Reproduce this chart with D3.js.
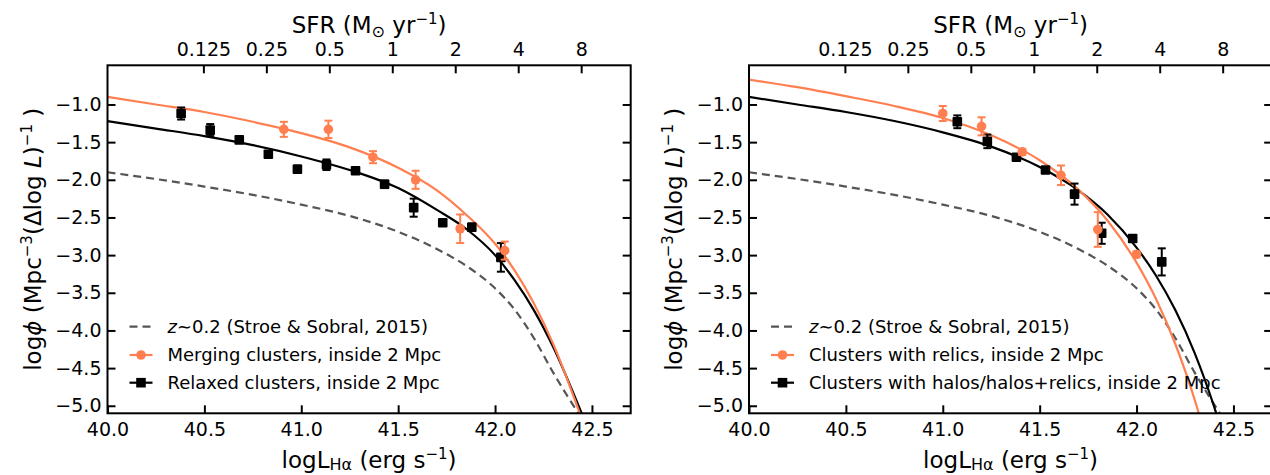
<!DOCTYPE html>
<html>
<head>
<meta charset="utf-8">
<script src="https://cdn.jsdelivr.net/npm/d3@7"></script>
<style>
  body { margin: 0; background: #fff; }
  svg { display: block; font-family: "DejaVu Sans", sans-serif; }
</style>
</head>
<body>
<svg id="chart" width="1270" height="475"></svg>
<script>
// --- Axes ---
const xDomain = [40.0, 42.7];
const yDomain = [-5.1, -0.48];
const xTicks = [40.0, 40.5, 41.0, 41.5, 42.0, 42.5];
const yTicks = [-1.0, -1.5, -2.0, -2.5, -3.0, -3.5, -4.0, -4.5, -5.0];
const sfrTicks = [0.125, 0.25, 0.5, 1, 2, 4, 8];
const sfrLabels = ["0.125", "0.25", "0.5", "1", "2", "4", "8"];
const sfrEdges = [0.0435, 13.8];   // SFR at the left and right edge of a panel

// --- z~0.2 field LF (dashed, both panels) ---
const fieldL   = [40.0, 40.25, 40.5, 40.75, 41.0, 41.25, 41.5, 41.7, 41.85, 42.0, 42.1, 42.2, 42.3, 42.44];
const fieldPhi = [-1.90, -1.99, -2.09, -2.20, -2.33, -2.48, -2.69, -2.92, -3.14, -3.44, -3.72, -4.10, -4.56, -5.14];

// --- Left panel: merging vs relaxed ---
const mergingFitL   = [40.0, 40.25, 40.5, 40.75, 41.0, 41.25, 41.5, 41.7, 41.85, 42.0, 42.1, 42.2, 42.3, 42.44];
const mergingFitPhi = [-0.90, -1.00, -1.10, -1.23, -1.38, -1.57, -1.84, -2.14, -2.46, -2.85, -3.20, -3.64, -4.18, -5.12];
const relaxedFitL   = [40.0, 40.25, 40.5, 40.75, 41.0, 41.25, 41.5, 41.7, 41.85, 42.0, 42.1, 42.2, 42.3, 42.45];
const relaxedFitPhi = [-1.22, -1.32, -1.42, -1.54, -1.69, -1.87, -2.11, -2.40, -2.65, -3.00, -3.33, -3.73, -4.22, -5.12];

const mergingL   = [40.91, 41.14, 41.37, 41.59, 41.82, 42.05];
const mergingPhi = [-1.33, -1.33, -1.70, -2.00, -2.65, -2.94];
const mergingErr = [0.10, 0.115, 0.08, 0.12, 0.19, 0.12];

const relaxedL   = [40.38, 40.53, 40.68, 40.83, 40.98, 41.13, 41.28, 41.43, 41.58, 41.73, 41.88, 42.03];
const relaxedPhi = [-1.12, -1.34, -1.47, -1.66, -1.86, -1.80, -1.88, -2.06, -2.37, -2.57, -2.63, -3.03];
const relaxedErr = [0.08, 0.08, 0.04, 0.04, 0.05, 0.07, 0.03, 0.05, 0.12, 0.03, 0.05, 0.19];

// --- Right panel: relics vs halos ---
const relicsFitL   = [40.0, 40.25, 40.5, 40.75, 41.0, 41.25, 41.5, 41.7, 41.85, 42.0, 42.1, 42.2, 42.3, 42.33];
const relicsFitPhi = [-0.67, -0.77, -0.89, -1.02, -1.18, -1.41, -1.74, -2.13, -2.54, -3.10, -3.58, -4.18, -4.92, -5.18];
const halosFitL    = [40.0, 40.25, 40.5, 40.75, 41.0, 41.25, 41.5, 41.7, 41.85, 42.0, 42.1, 42.2, 42.3, 42.4, 42.42];
const halosFitPhi  = [-0.90, -1.00, -1.10, -1.22, -1.37, -1.56, -1.83, -2.14, -2.46, -2.90, -3.27, -3.73, -4.30, -5.01, -5.17];

const relicsL   = [41.00, 41.20, 41.41, 41.61, 41.80, 42.00];
const relicsPhi = [-1.12, -1.29, -1.63, -1.94, -2.66, -2.99];
const relicsErr = [0.10, 0.12, 0.04, 0.13, 0.23, 0.04];

const halosL   = [41.075, 41.23, 41.38, 41.53, 41.68, 41.82, 41.98, 42.13];
const halosPhi = [-1.23, -1.49, -1.70, -1.87, -2.19, -2.71, -2.78, -3.09];
const halosErr = [0.085, 0.09, 0.04, 0.04, 0.14, 0.14, 0.04, 0.18];

const fieldLabel = "(Stroe & Sobral, 2015)";
const leftLabels  = ["Merging clusters, inside 2 Mpc", "Relaxed clusters, inside 2 Mpc"];
const rightLabels = ["Clusters with relics, inside 2 Mpc", "Clusters with halos/halos+relics, inside 2 Mpc"];

// --- Layout ---
const ORANGE = "#ff7f50";
const GREY = "#555555";
const plotW = 523.2, plotTop = 65.3, plotBottom = 413.3;
const tickFont = 19, titleFont = 23, legendFont = 18;

const svg = d3.select("#chart");
const zip = (a, b) => a.map((v, i) => [v, b[i]]);

function drawPanel(left, idx, orangeFit, blackFit, orangePts, blackPts, labels) {
    const x = d3.scaleLinear().domain(xDomain).range([left, left + plotW]);
    const y = d3.scaleLinear().domain(yDomain).range([plotBottom, plotTop]);
    const sfr = d3.scaleLog().domain(sfrEdges).range([left, left + plotW]);

    const g = svg.append("g");

    // clip for curves
    const clipId = "clip" + idx;
    svg.append("clipPath").attr("id", clipId)
        .append("rect").attr("x", left).attr("y", plotTop)
        .attr("width", plotW).attr("height", plotBottom - plotTop);

    const line = d3.line().x(d => x(d[0])).y(d => y(d[1])).curve(d3.curveMonotoneX);
    const curves = g.append("g").attr("clip-path", `url(#${clipId})`);

    curves.append("path").attr("d", line(zip(fieldL, fieldPhi)))
        .attr("fill", "none").attr("stroke", GREY).attr("stroke-width", 2.2)
        .attr("stroke-dasharray", "8,5");
    curves.append("path").attr("d", line(zip(blackFit[0], blackFit[1])))
        .attr("fill", "none").attr("stroke", "#000").attr("stroke-width", 2.2);
    curves.append("path").attr("d", line(zip(orangeFit[0], orangeFit[1])))
        .attr("fill", "none").attr("stroke", ORANGE).attr("stroke-width", 2.2);

    // error bars + markers
    function points(L, P, E, color, shape) {
        const pg = g.append("g");
        L.forEach((l, i) => {
            const cx = x(l), y1 = y(P[i] - E[i]), y2 = y(P[i] + E[i]);
            pg.append("line").attr("x1", cx).attr("x2", cx).attr("y1", y1).attr("y2", y2)
                .attr("stroke", color).attr("stroke-width", 2);
            [y1, y2].forEach(yy => pg.append("line")
                .attr("x1", cx - 4).attr("x2", cx + 4).attr("y1", yy).attr("y2", yy)
                .attr("stroke", color).attr("stroke-width", 2));
            if (shape === "circle") {
                pg.append("circle").attr("cx", cx).attr("cy", y(P[i])).attr("r", 4.8).attr("fill", color);
            } else {
                pg.append("rect").attr("x", cx - 4.8).attr("y", y(P[i]) - 4.8)
                    .attr("width", 9.6).attr("height", 9.6).attr("rx", 1).attr("fill", color);
            }
        });
    }
    points(blackPts[0], blackPts[1], blackPts[2], "#000", "square");
    points(orangePts[0], orangePts[1], orangePts[2], ORANGE, "circle");

    // axes
    const styleAxis = sel => {
        sel.select(".domain").remove();
        sel.selectAll(".tick line").attr("stroke", "#000").attr("stroke-width", 2);
        sel.selectAll(".tick text").attr("fill", "#000")
            .attr("font-size", tickFont).attr("font-family", "DejaVu Sans");
    };
    g.append("g").attr("transform", `translate(${left},0)`)
        .call(d3.axisLeft(y).tickValues(yTicks).tickSize(-8).tickPadding(6).tickFormat(d3.format(".1f")))
        .call(styleAxis);
    g.append("g").attr("transform", `translate(${left + plotW},0)`)
        .call(d3.axisRight(y).tickValues(yTicks).tickSize(-8).tickFormat(""))
        .call(styleAxis);
    g.append("g").attr("transform", `translate(0,${plotBottom})`)
        .call(d3.axisBottom(x).tickValues(xTicks).tickSize(-8).tickPadding(9).tickFormat(d3.format(".1f")))
        .call(styleAxis);
    g.append("g").attr("transform", `translate(0,${plotTop})`)
        .call(d3.axisTop(sfr).tickValues(sfrTicks).tickSize(-8).tickPadding(9).tickFormat((d, i) => sfrLabels[i]))
        .call(styleAxis);

    g.append("rect").attr("x", left).attr("y", plotTop)
        .attr("width", plotW).attr("height", plotBottom - plotTop)
        .attr("fill", "none").attr("stroke", "#000").attr("stroke-width", 2);

    // titles
    const cx = left + plotW / 2;
    const top = g.append("text").attr("x", cx).attr("y", 33).attr("text-anchor", "middle")
        .attr("font-size", titleFont);
    top.append("tspan").text("SFR (M");
    top.append("tspan").attr("font-size", 16).attr("dy", 4).text("\u2299");
    top.append("tspan").attr("dy", -4).text(" yr");
    top.append("tspan").attr("font-size", 15).attr("dy", -9).text("\u22121");
    top.append("tspan").attr("dy", 9).text(")");

    const bot = g.append("text").attr("x", cx).attr("y", 468).attr("text-anchor", "middle")
        .attr("font-size", titleFont);
    bot.append("tspan").text("logL");
    bot.append("tspan").attr("font-size", 16).attr("dy", 2).text("H\u03b1");
    bot.append("tspan").attr("dy", -2).text(" (erg s");
    bot.append("tspan").attr("font-size", 15).attr("dy", -9).text("\u22121");
    bot.append("tspan").attr("dy", 9).text(")");

    const yl = g.append("text").attr("transform", `translate(${left - 67},${(plotTop + plotBottom) / 2}) rotate(-90)`)
        .attr("text-anchor", "middle").attr("font-size", titleFont);
    yl.append("tspan").text("log");
    yl.append("tspan").attr("font-style", "italic").text("\u03d5");
    yl.append("tspan").text(" (Mpc");
    yl.append("tspan").attr("font-size", 15).attr("dy", -9).text("\u22123");
    yl.append("tspan").attr("dy", 9).text("(\u0394log ");
    yl.append("tspan").attr("font-style", "italic").text("L");
    yl.append("tspan").text(")");
    yl.append("tspan").attr("font-size", 15).attr("dy", -9).text("\u22121");
    yl.append("tspan").attr("dy", 9).text(" )");

    // legend
    const lg = g.append("g").attr("transform", `translate(${left},0)`);
    const rows = [326.7, 355, 382.7];
    const hx1 = 22, hx2 = 45, tx = 60;
    lg.append("line").attr("x1", hx1).attr("x2", hx2).attr("y1", rows[0]).attr("y2", rows[0])
        .attr("stroke", GREY).attr("stroke-width", 2.2).attr("stroke-dasharray", "8,5");
    const t0 = lg.append("text").attr("x", tx).attr("y", rows[0]).attr("dy", "0.35em").attr("font-size", legendFont);
    t0.append("tspan").attr("font-style", "italic").text("z");
    t0.append("tspan").text("\u223c0.2 " + fieldLabel);

    [[ORANGE, "circle"], ["#000", "square"]].forEach(([color, shape], i) => {
        const ry = rows[i + 1];
        lg.append("line").attr("x1", hx1).attr("x2", hx2).attr("y1", ry).attr("y2", ry)
            .attr("stroke", color).attr("stroke-width", 2.2);
        if (shape === "circle") {
            lg.append("circle").attr("cx", (hx1 + hx2) / 2).attr("cy", ry).attr("r", 4.8).attr("fill", color);
        } else {
            lg.append("rect").attr("x", (hx1 + hx2) / 2 - 4.8).attr("y", ry - 4.8)
                .attr("width", 9.6).attr("height", 9.6).attr("fill", color);
        }
        lg.append("text").attr("x", tx).attr("y", ry).attr("dy", "0.35em")
            .attr("font-size", legendFont).text(labels[i]);
    });
}

drawPanel(107.5, 0,
    [mergingFitL, mergingFitPhi], [relaxedFitL, relaxedFitPhi],
    [mergingL, mergingPhi, mergingErr], [relaxedL, relaxedPhi, relaxedErr], leftLabels);
drawPanel(749, 1,
    [relicsFitL, relicsFitPhi], [halosFitL, halosFitPhi],
    [relicsL, relicsPhi, relicsErr], [halosL, halosPhi, halosErr], rightLabels);
</script>
</body>
</html>
